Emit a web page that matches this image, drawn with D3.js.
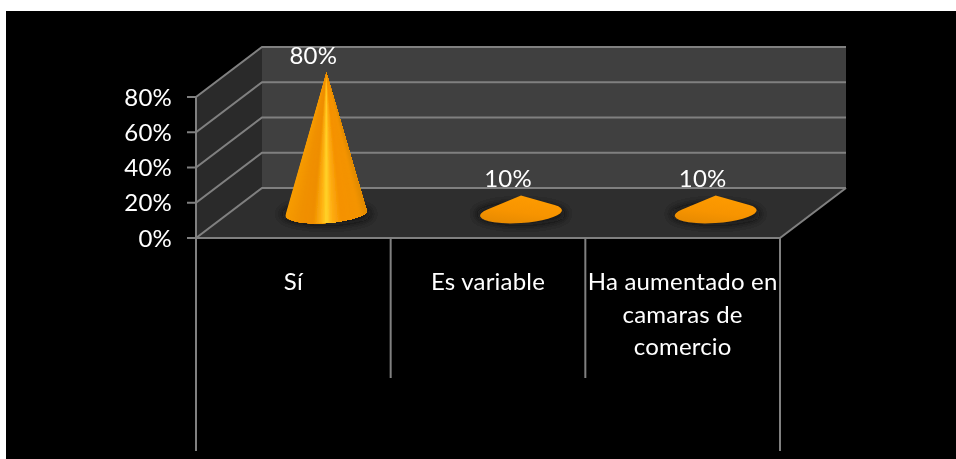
<!DOCTYPE html>
<html>
<head>
<meta charset="utf-8">
<script src="https://cdn.jsdelivr.net/npm/d3@7"></script>
<style>
html, body { margin: 0; padding: 0; background: #fff; overflow: hidden; }
svg { display: block; }
text { font-family: Lato, "Open Sans", sans-serif; fill: #fff; font-size: 24px; letter-spacing: 0.2px; }
</style>
</head>
<body>
<svg width="956" height="459"></svg>
<script>
// reference chart: 3D cone columns on black
var categories = ["Sí", "Es variable", "Ha aumentado en camaras de comercio"];
var categoryLines = [["Sí"], ["Es variable"], ["Ha aumentado en", "camaras de", "comercio"]];
var values = [80, 10, 10];
var valueLabels = ["80%", "10%", "10%"];
var yTicks = [0, 20, 40, 60, 80];

var svg = d3.select("svg"),
    width = +svg.attr("width"),
    height = +svg.attr("height");

// depth offset between front and back plane
var dx = 66, dy = -50;

var x = d3.scaleBand().domain(categories).range([196, 780]);
var y = d3.scaleLinear().domain([0, 80]).range([238, 97]);

var defs = svg.append("defs");

// shading across a cone, -1 is the left rim and 1 the right rim
var coneColor = d3.scaleLinear()
    .domain([-1, -0.6, -0.3, -0.1, 0, 0.12, 0.35, 0.8, 1])
    .range(["#f79c00", "#f09000", "#ef8e00", "#ffb414", "#ffd42a", "#ffb014", "#f59200", "#f49400", "#e08a00"]);

var flat = defs.append("linearGradient").attr("id", "flat")
    .attr("x1", 0).attr("y1", 1).attr("x2", 0.35).attr("y2", 0);
flat.append("stop").attr("offset", 0).attr("stop-color", "#e48800");
flat.append("stop").attr("offset", 0.5).attr("stop-color", "#f79400");
flat.append("stop").attr("offset", 1).attr("stop-color", "#fd9a00");

defs.append("filter").attr("id", "shadow")
    .attr("x", "-40%").attr("y", "-150%").attr("width", "180%").attr("height", "400%")
  .append("feGaussianBlur").attr("stdDeviation", 5);

defs.append("filter").attr("id", "soft")
    .attr("filterUnits", "userSpaceOnUse")
    .attr("x", 0).attr("y", 0).attr("width", width).attr("height", height)
  .append("feGaussianBlur").attr("stdDeviation", 0.45);

svg.append("rect")
    .attr("x", 6).attr("y", 11)
    .attr("width", width - 6).attr("height", height - 11)
    .attr("fill", "#000");

var chart = svg.append("g").attr("filter", "url(#soft)");

function poly(pts) { return "M" + pts.join("L") + "Z"; }

var x0 = x.range()[0], x1 = x.range()[1],
    yb = y(0), yt = y(80);

// walls and floor
chart.append("path")
    .attr("d", poly([[x0 + dx, yb + dy], [x1 + dx, yb + dy], [x1 + dx, yt + dy], [x0 + dx, yt + dy]]))
    .attr("fill", "#404040");
chart.append("path")
    .attr("d", poly([[x0, yb], [x0 + dx, yb + dy], [x0 + dx, yt + dy], [x0, yt]]))
    .attr("fill", "#2a2a2a");
chart.append("path")
    .attr("d", poly([[x0, yb], [x1, yb], [x1 + dx, yb + dy], [x0 + dx, yb + dy]]))
    .attr("fill", "#2f2f2f");

// grid on the side and back walls
var grid = chart.append("g").attr("stroke", "#808080").attr("stroke-width", 2).attr("fill", "none");

yTicks.forEach(function(t) {
  grid.append("path")
      .attr("d", "M" + [x0 - 9, y(t)] + "L" + [x0, y(t)] + "L" + [x0 + dx, y(t) + dy] + "L" + [x1 + dx, y(t) + dy]);
});

// front axis and category dividers, the outer ones run down further
grid.append("path").attr("d", "M" + [x0, yt] + "L" + [x0, yb] + "L" + [x1, yb] + "L" + [x1 + dx, yb + dy]);

var dividers = [x0].concat(categories.map(function(c) { return x(c) + x.bandwidth(); }));
dividers.forEach(function(d, i) {
  var long = i == 0 || i == dividers.length - 1;
  grid.append("line")
      .attr("x1", d).attr("x2", d)
      .attr("y1", yb).attr("y2", long ? 451 : 378);
});

// cones stand in the middle of the floor depth, base tilted a little
var rx = 41, ry = 10, tilt = -4 * Math.PI / 180;

function conePath(v) {
  var h = y(0) - y(v);
  // apex in the ellipse's own frame, scaled so the base is a unit circle
  var ux = h * Math.sin(tilt) / rx * -1,
      uy = -h * Math.cos(tilt) / ry;
  var d = Math.sqrt(ux * ux + uy * uy),
      phi = Math.atan2(uy, ux),
      off = Math.acos(1 / d);
  function onBase(t) {
    var a = rx * Math.cos(t), b = ry * Math.sin(t);
    return [a * Math.cos(tilt) - b * Math.sin(tilt), a * Math.sin(tilt) + b * Math.cos(tilt)];
  }
  var right = onBase(phi + off), left = onBase(phi - off);
  return "M0," + (-h) + "L" + right +
    "A" + rx + "," + ry + " " + (tilt * 180 / Math.PI) + " 1 1 " + left + "Z";
}

var cone = chart.selectAll(".cone")
  .data(values)
  .enter().append("g")
    .attr("class", "cone")
    .attr("transform", function(d, i) {
      return "translate(" + (x(categories[i]) + x.bandwidth() / 2 + dx / 2) + "," + (y(0) + dy / 2) + ")";
    });

cone.append("ellipse")
    .attr("cx", 0).attr("cy", 1)
    .attr("rx", rx + 5).attr("ry", ry + 1)
    .attr("fill", "#0a0a0a")
    .attr("opacity", 0.8)
    .attr("filter", "url(#shadow)");

cone.each(function(v, i) {
  var g = d3.select(this),
      h = y(0) - y(v),
      outline = conePath(v);

  if (v <= 20) {
    // low cones read as plain orange
    g.append("path").attr("d", outline).attr("fill", "url(#flat)");
    return;
  }

  defs.append("clipPath").attr("id", "coneclip" + i)
    .append("path").attr("d", outline);

  // overlapping fans from the apex, so no seams and the highlight narrows upwards
  var strips = g.append("g").attr("clip-path", "url(#coneclip" + i + ")");
  var n = 60, reach = 2 * ry, grow = (h + reach) / h;
  d3.range(n).forEach(function(k) {
    var a = k / n * 2 - 1;
    strips.append("path")
        .attr("d", poly([[0, -h], [a * rx * grow, reach], [rx * grow, reach]]))
        .attr("fill", coneColor(a + 1 / n));
  });
});

// value labels
cone.append("text")
    .attr("y", function(d) { return y(d) - y(0) - 8.5; })
    .attr("text-anchor", "middle")
    .attr("dx", -13)
    .text(function(d, i) { return valueLabels[i]; });

// y tick labels
chart.selectAll(".ytick")
  .data(yTicks)
  .enter().append("text")
    .attr("class", "ytick")
    .attr("x", 172)
    .attr("y", function(d) { return y(d) + 8.5; })
    .attr("text-anchor", "end")
    .text(function(d) { return d + "%"; });

// category labels, wrapped by hand like the picture
categoryLines.forEach(function(lines, i) {
  lines.forEach(function(l, j) {
    chart.append("text")
        .attr("x", x(categories[i]) + x.bandwidth() / 2)
        .attr("y", 290 + j * 32.5)
        .attr("text-anchor", "middle")
        .text(l);
  });
});
</script>
</body>
</html>
